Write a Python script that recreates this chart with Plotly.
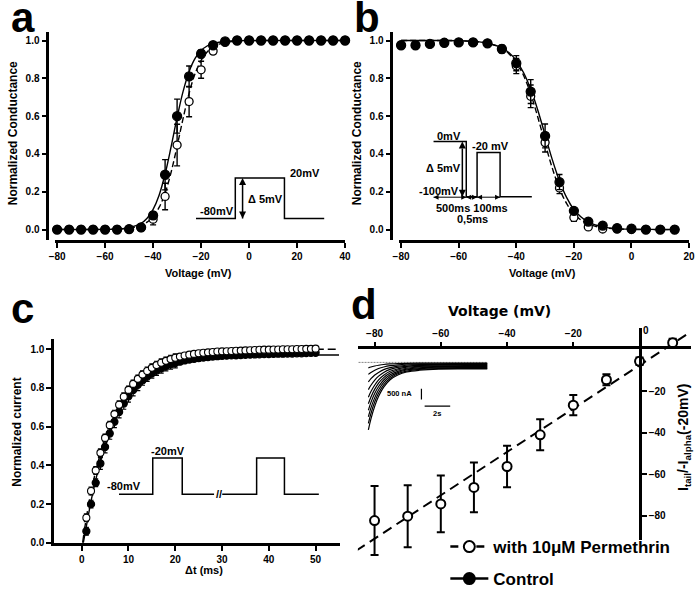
import plotly.graph_objects as go

W, H = 700, 597

# ---------------- data ----------------
# Panel a: activation
A_V = [-80, -75, -70, -65, -60, -55, -50, -45, -40, -35, -30, -25, -20, -15, -10, -5, 0, 5, 10, 15, 20, 25, 30, 35, 40]
A_CTRL = [0, 0, 0, 0, 0, 0, 0.002, 0.012, 0.075, 0.29, 0.60, 0.81, 0.93, 0.975, 0.995, 1, 1, 1, 1, 1, 1, 1, 1, 1, 1]
A_CTRL_ERR = [0, 0, 0, 0, 0, 0, 0, 0.005, 0.02, 0.08, 0.09, 0.055, 0.02, 0.01, 0, 0, 0, 0, 0, 0, 0, 0, 0, 0, 0]
A_PERM = [0, 0, 0, 0, 0, 0, 0.002, 0.01, 0.055, 0.175, 0.447, 0.677, 0.845, 0.944, 0.99, 1, 1, 1, 1, 1, 1, 1, 1, 1, 1]
A_PERM_ERR = [0, 0, 0, 0, 0, 0, 0, 0.005, 0.03, 0.07, 0.11, 0.08, 0.045, 0.015, 0.005, 0, 0, 0, 0, 0, 0, 0, 0, 0, 0]
A_FIT_V = [-80, -70, -60, -55, -50, -45, -42.5, -40, -37.5, -35, -32.5, -30, -27.5, -25, -22.5, -20, -17.5, -15, -12.5, -10, -5, 0, 10, 20, 30, 40]
A_FIT_CTRL = [0, 0, 0.001, 0.003, 0.01, 0.033, 0.06, 0.107, 0.182, 0.294, 0.438, 0.593, 0.731, 0.835, 0.905, 0.947, 0.971, 0.984, 0.991, 0.995, 0.999, 1, 1, 1, 1, 1]
A_FIT_PERM = [0, 0, 0.001, 0.002, 0.007, 0.022, 0.039, 0.068, 0.117, 0.193, 0.303, 0.441, 0.588, 0.721, 0.825, 0.895, 0.939, 0.966, 0.981, 0.989, 0.998, 0.999, 1, 1, 1, 1]

# Panel b: steady-state inactivation
B_V = [-80, -75, -70, -65, -60, -55, -50, -45, -40, -35, -30, -25, -20, -15, -10, -5, 0, 5, 10, 15]
B_CTRL = [0.975, 0.975, 0.982, 0.988, 0.99, 0.99, 0.985, 0.955, 0.88, 0.73, 0.495, 0.251, 0.099, 0.042, 0.021, 0.008, 0.005, 0.0, 0.0, 0.0]
B_CTRL_ERR = [0, 0, 0, 0, 0, 0, 0.005, 0.015, 0.04, 0.063, 0.063, 0.04, 0.015, 0.008, 0.005, 0, 0, 0, 0, 0]
B_PERM = [0.975, 0.975, 0.982, 0.988, 0.99, 0.99, 0.985, 0.955, 0.865, 0.705, 0.46, 0.22, 0.064, 0.014, 0.003, 0.002, 0, 0, 0, 0]
B_PERM_ERR = [0, 0, 0, 0, 0, 0, 0.005, 0.02, 0.04, 0.06, 0.05, 0.03, 0.02, 0.008, 0.003, 0, 0, 0, 0, 0]
B_FIT_V = [-80, -70, -60, -55, -50, -45, -42.5, -40, -37.5, -35, -32.5, -30, -27.5, -25, -22.5, -20, -17.5, -15, -12.5, -10, -5, 0, 5, 15]
B_FIT_CTRL = [1, 1, 0.999, 0.995, 0.986, 0.961, 0.935, 0.894, 0.831, 0.743, 0.63, 0.5, 0.37, 0.257, 0.169, 0.106, 0.066, 0.039, 0.024, 0.014, 0.005, 0.002, 0.001, 0]
B_FIT_PERM = [1, 1, 0.999, 0.995, 0.986, 0.959, 0.929, 0.885, 0.816, 0.718, 0.593, 0.456, 0.325, 0.216, 0.137, 0.083, 0.05, 0.029, 0.017, 0.01, 0.003, 0.001, 0, 0]

# Panel c: recovery from inactivation
C_T = list(range(1, 51))
C_CTRL = [0.06, 0.2, 0.31, 0.41, 0.495, 0.565, 0.625, 0.676, 0.72, 0.757, 0.789, 0.816, 0.839, 0.859, 0.876,
          0.89, 0.902, 0.913, 0.922, 0.929, 0.936, 0.942, 0.947, 0.951, 0.954, 0.957, 0.96, 0.962, 0.964, 0.966,
          0.967, 0.968, 0.969, 0.97, 0.971, 0.972, 0.973, 0.974, 0.975, 0.975, 0.976, 0.977, 0.977, 0.978, 0.978,
          0.979, 0.979, 0.98, 0.981, 0.982]
C_CTRL_ERR = [0.02] * 3 + [0.03] * 9 + [0.025] * 8 + [0.015] * 10 + [0.01] * 20
C_PERM = [0.13, 0.268, 0.374, 0.465, 0.542, 0.608, 0.665, 0.713, 0.755, 0.79, 0.821, 0.847, 0.869, 0.888, 0.904,
          0.918, 0.93, 0.94, 0.949, 0.956, 0.962, 0.968, 0.972, 0.976, 0.979, 0.982, 0.984, 0.986, 0.988, 0.989,
          0.99, 0.991, 0.992, 0.993, 0.994, 0.995, 0.996, 0.997, 0.998, 0.998, 0.999, 0.999, 1.0, 1.0, 1.0,
          1.001, 1.001, 1.002, 1.002, 1.003]
C_PERM_ERR = [0.02] * 20 + [0.01] * 30
C_FIT_T_CTRL = [0.35, 1, 2, 3, 4, 5, 6, 8, 10, 12, 15, 18, 22, 26, 30, 35, 40, 45, 50, 55]
C_FIT_CTRL = [0, 0.085, 0.215, 0.325, 0.418, 0.498, 0.566, 0.676, 0.757, 0.814, 0.873, 0.909, 0.938, 0.953, 0.961, 0.966, 0.968, 0.969, 0.97, 0.97]
C_FIT_T_PERM = [0.2, 1, 2, 3, 4, 5, 6, 8, 10, 12, 15, 18, 22, 26, 30, 35, 40, 45, 50, 55]
C_FIT_PERM = [0, 0.13, 0.26, 0.37, 0.46, 0.54, 0.605, 0.71, 0.788, 0.845, 0.902, 0.938, 0.966, 0.981, 0.99, 0.996, 0.999, 1.0, 1.0, 1.0]

# Panel d: tail current vs voltage (with permethrin)
D_V = [-80, -70, -60, -50, -40, -30, -20, -10, 0, 10]
D_PERM = [-82.4, -80.3, -74.4, -66.4, -56.3, -41.0, -26.7, -14.4, -5.5, 3.5]
D_PERM_ERR = [16.7, 15.0, 13.7, 12.0, 10.0, 7.5, 4.9, 2.7, 1.8, 1.9]
D_FIT_V = [-85.5, 15.5]
D_FIT_I = [-96.9, 8.8]

# Panel d inset: tail-current recordings (s, nA)
TR_T = [0, 0.2, 0.5, 0.8, 1.2, 1.7, 2.3, 3, 4, 5.5, 7.5, 9.3]
TRACES = [
    [-3100, -2600, -2010, -1560, -1140, -800, -580, -440, -360, -310, -300, -300],
    [-2800, -2350, -1810, -1410, -1030, -730, -520, -400, -320, -280, -270, -270],
    [-2500, -2090, -1620, -1260, -920, -650, -470, -350, -290, -250, -240, -240],
    [-2200, -1840, -1420, -1110, -810, -570, -410, -310, -250, -220, -210, -210],
    [-1900, -1590, -1230, -950, -700, -490, -350, -270, -210, -190, -180, -180],
    [-1600, -1340, -1040, -800, -590, -410, -300, -220, -180, -160, -150, -150],
    [-1250, -1050, -810, -630, -460, -320, -230, -180, -140, -125, -120, -120],
    [-900, -750, -580, -460, -330, -240, -170, -130, -105, -95, -90, -90],
    [-550, -460, -360, -280, -210, -150, -110, -85, -70, -62, -60, -60],
    [-250, -210, -165, -130, -95, -70, -50, -40, -35, -30, -30, -30],
]
TR_BASE_T = [-0.77, 9.3]
TR_BASE_I = [0, 0]
SCALE_NA = 500
SCALE_S = 2

# Voltage protocols (schematic time units, mV)
PROTO_A_T = [0, 40, 40, 90, 90, 130.7]
PROTO_A_V = [-80, -80, 20, 20, -80, -80]
PROTO_B_T = [0, 33.3, 33.3, 44.3, 44.3, 67.7, 67.7, 100]
PROTO_B_V = [0, 0, -100, -100, -20, -20, -100, -100]
PROTO_B_SPANS = [(0, 33.3), (33.3, 44.3), (44.3, 67.7)]
PROTO_C_T1 = [0, 34.3, 34.3, 64.3, 64.3, 96.7]
PROTO_C_T2 = [105, 140, 140, 168.3, 168.3, 203.3]
PROTO_C_V = [-80, -80, -20, -20, -80, -80]

# ---------------- helpers ----------------
FONT = "Liberation Sans, Arial, Helvetica, sans-serif"


def P(x):
    return x / W


def Q(y):
    return 1 - y / H


def font(size, family=FONT):
    return dict(family=family, size=size, color="black", weight="bold")


def err(arr, width, thick=1.4):
    return dict(type="data", array=arr, visible=True, color="black", thickness=thick, width=width)


def mk(filled, size, lw=1.3):
    return dict(symbol="circle", size=size, color="black" if filled else "white",
                line=dict(color="black", width=lw))


fig = go.Figure()


def line(x, y, xa, ya, width=1.4, dash=None, shape="spline", color="black"):
    fig.add_trace(go.Scatter(x=x, y=y, mode="lines", xaxis=xa, yaxis=ya, showlegend=False,
                             hoverinfo="skip",
                             line=dict(color=color, width=width, dash=dash, shape=shape)))


def dbl_arrow(x, y, xa, ya, symbols, width=1.5, size=7):
    fig.add_trace(go.Scatter(x=x, y=y, mode="lines+markers", xaxis=xa, yaxis=ya, showlegend=False,
                             hoverinfo="skip", cliponaxis=False,
                             line=dict(color="black", width=width),
                             marker=dict(symbol=symbols, size=size, color="black",
                                         line=dict(width=0))))


def pts(x, y, e, xa, ya, filled, size, lw=1.3, cap=3, thick=1.4):
    fig.add_trace(go.Scatter(x=x, y=y, mode="markers", xaxis=xa, yaxis=ya, showlegend=False,
                             marker=mk(filled, size, lw), error_y=err(e, cap, thick), cliponaxis=False))


# Panel a
line(A_FIT_V, A_FIT_PERM, "x", "y", dash="6px,3px")
line(A_FIT_V, A_FIT_CTRL, "x", "y")
pts(A_V, A_PERM, A_PERM_ERR, "x", "y", False, 8)
pts(A_V, A_CTRL, A_CTRL_ERR, "x", "y", True, 9)

# Panel b
line(B_FIT_V, B_FIT_PERM, "x2", "y2", dash="6px,3px")
line(B_FIT_V, B_FIT_CTRL, "x2", "y2")
pts(B_V, B_PERM, B_PERM_ERR, "x2", "y2", False, 8)
pts(B_V, B_CTRL, B_CTRL_ERR, "x2", "y2", True, 9)

# Panel c
line(C_FIT_T_PERM, C_FIT_PERM, "x3", "y3", dash="8px,4px")
line(C_FIT_T_CTRL, C_FIT_CTRL, "x3", "y3")
pts(C_T, C_CTRL, C_CTRL_ERR, "x3", "y3", True, 7, cap=2.5, thick=1.2)
pts(C_T, C_PERM, C_PERM_ERR, "x3", "y3", False, 7, lw=1.1, cap=2.5, thick=1.2)

# Panel d
line(D_FIT_V, D_FIT_I, "x4", "y4", width=2, dash="10px,6px", shape="linear")
pts(D_V, D_PERM, D_PERM_ERR, "x4", "y4", False, 9, lw=2, cap=4, thick=2)
fig.add_trace(go.Scatter(x=[], y=[], xaxis="x4", yaxis="y5", showlegend=False, hoverinfo="skip"))

# Legend entries
fig.add_trace(go.Scatter(x=[None], y=[None], mode="lines+markers", name="with 10\u03bcM Permethrin",
                         xaxis="x4", yaxis="y4", legend="legend",
                         line=dict(color="black", width=2.5, dash="8px,5px"),
                         marker=mk(False, 11, 2)))
fig.add_trace(go.Scatter(x=[None], y=[None], mode="lines+markers", name="Control",
                         xaxis="x4", yaxis="y4", legend="legend2",
                         line=dict(color="black", width=2.5), marker=mk(True, 11, 2)))

# Protocol insets
line(PROTO_A_T, PROTO_A_V, "x5", "y6", width=1.5, shape="linear")
dbl_arrow([47.4, 47.4], [-80, 20], "x5", "y6", ["arrow-down", "arrow-up"])
line(PROTO_B_T, PROTO_B_V, "x6", "y7", width=1.5, shape="linear")
dbl_arrow([29.3, 29.3], [-100, 0], "x6", "y7", ["arrow-down", "arrow-up"])
for a0, a1 in PROTO_B_SPANS:
    dbl_arrow([a0, a1], [-101, -101], "x6", "y7", ["arrow-left", "arrow-right"], width=1, size=5)
line(PROTO_C_T1, PROTO_C_V, "x7", "y8", width=1.5, shape="linear")
line(PROTO_C_T2, PROTO_C_V, "x7", "y8", width=1.5, shape="linear")

# Recording inset in d
line(TR_BASE_T, TR_BASE_I, "x8", "y9", width=0.8, dash="2px,1px", shape="linear", color="#666")
for tr in TRACES:
    line(TR_T, tr, "x8", "y9", width=1.2)
SB_T, SB_I = 4.15, -1209
line([SB_T, SB_T], [SB_I, SB_I - SCALE_NA], "x8", "y9", width=1.2, shape="linear")
line([SB_T + 0.25, SB_T + 0.25 + SCALE_S], [-2013, -2013], "x8", "y9", width=1.2, shape="linear")

# ---------------- axes ----------------
AX = dict(showline=True, linecolor="black", linewidth=2.5, ticks="outside", ticklen=5, tickwidth=2,
          tickcolor="black", showgrid=False, zeroline=False, tickfont=font(10), fixedrange=True,
          ticklabeloverflow="allow")
INV = dict(visible=False, fixedrange=True, showgrid=False, zeroline=False)
YT = [0, 0.2, 0.4, 0.6, 0.8, 1.0]

layout = dict(
    width=W, height=H, margin=dict(l=0, r=0, t=0, b=0),
    paper_bgcolor="white", plot_bgcolor="rgba(0,0,0,0)",
    font=dict(family=FONT, color="black"),
    showlegend=True,
    xaxis=dict(AX, domain=[P(50), P(345)], range=[-80.82, 40], anchor="y",
               tickvals=[-80, -60, -40, -20, 0, 20, 40]),
    yaxis=dict(AX, domain=[Q(243), Q(32)], range=[-0.056, 1.047], anchor="free", position=P(42),
               tickvals=YT, tickformat=".1f"),
    xaxis2=dict(AX, domain=[P(400), P(695)], range=[-80.68, 20], anchor="y2",
                tickvals=[-80, -60, -40, -20, 0, 20]),
    yaxis2=dict(AX, domain=[Q(243), Q(32)], range=[-0.056, 1.047], anchor="free", position=P(392),
                tickvals=YT, tickformat=".1f"),
    xaxis3=dict(AX, domain=[P(49), P(340)], range=[-5.88, 55.25], anchor="y3",
                tickvals=[0, 10, 20, 30, 40, 50]),
    yaxis3=dict(AX, domain=[Q(549.3), Q(343)], range=[0, 1.053], anchor="x3",
                tickvals=YT, tickformat=".1f"),
    xaxis4=dict(AX, domain=[P(358), P(697)], range=[-85.04, 15.55], anchor="free", position=Q(351.5),
                side="top", tickvals=[-80, -60, -40, -20], ticklabelstandoff=1),
    yaxis4=dict(INV, domain=[Q(566), Q(331.7)], range=[-101.15, 10.69], anchor="x4"),
    yaxis5=dict(AX, domain=[Q(546.7), Q(331.7)], range=[-91.93, 10.69], anchor="free", position=P(645),
                side="right", tickvals=[-80, -60, -40, -20]),
    xaxis5=dict(INV, domain=[P(193.3), P(324)], range=[0, 130.7], anchor="y6"),
    yaxis6=dict(INV, domain=[Q(226), Q(175)], range=[-92.2, 32.2], anchor="x5"),
    xaxis6=dict(INV, domain=[P(420), P(540)], range=[-15, 105], anchor="y7"),
    yaxis7=dict(INV, domain=[Q(204), Q(138)], range=[-109, 9.5], anchor="x6"),
    xaxis7=dict(INV, domain=[P(105), P(330)], range=[-10, 215], anchor="y8"),
    yaxis8=dict(INV, domain=[Q(506), Q(457)], range=[-89.8, -9.6], anchor="x7"),
    xaxis8=dict(INV, domain=[P(355), P(492)], range=[-1.054, 9.48], anchor="y9"),
    yaxis9=dict(INV, domain=[Q(440), Q(362)], range=[-3332, 214], anchor="x8"),
    legend=dict(x=P(447), y=Q(553.5), xanchor="left", yanchor="middle", font=font(17),
                bgcolor="rgba(0,0,0,0)", borderwidth=0, itemwidth=38),
    legend2=dict(x=P(447), y=Q(586), xanchor="left", yanchor="middle", font=font(17),
                 bgcolor="rgba(0,0,0,0)", borderwidth=0, itemwidth=38),
)

ann = []


def ptxt(text, xpx, ypx, size, xanchor="center", angle=0, family=FONT):
    ann.append(dict(text=text, x=P(xpx), y=Q(ypx), xref="paper", yref="paper", showarrow=False,
                    xanchor=xanchor, yanchor="middle", textangle=angle, font=font(size, family)))


# panel letters
ptxt("a", 3, 17.5, 42, "left")
ptxt("b", 352, 17.5, 42, "left")
ptxt("c", 3, 312.5, 42, "left")
ptxt("d", 349, 308.5, 42, "left")

# axis titles
ptxt("Voltage (mV)", 196, 276, 11)
ptxt("Normalized Conductance", 8, 135, 12, angle=-90)
ptxt("Voltage (mV)", 546, 276, 11)
ptxt("Normalized Conductance", 358, 135, 12, angle=-90)
ptxt("\u0394t (ms)", 201.7, 577, 11)
ptxt("Normalized current", 11, 437, 12, angle=-90)
ptxt("Voltage (mV)", 501.7, 315, 14, family="DejaVu Sans, Verdana, sans-serif")
ptxt("I<sub>tail</sub>/-I<sub>alpha</sub>(-20mV)", 690, 443, 14, angle=-90)
# top-axis zero label of panel d (drawn beside the vertical axis)
ann.append(dict(text="0", x=0, y=Q(334), xref="x4", yref="paper", xshift=6, showarrow=False,
                xanchor="center", yanchor="middle", font=font(10)))

# protocol labels a
ptxt("20mV", 287, 175, 11, "left")
ptxt("\u0394 5mV", 244, 201.7, 11, "left")
ptxt("-80mV", 195, 213.3, 11, "left")
# protocol labels b
ptxt("0mV", 436, 138, 11, "left")
ptxt("-20 mV", 471.7, 148, 11, "left")
ptxt("\u0394 5mV", 425, 170, 11, "left")
ptxt("-100mV", 418, 193.3, 11, "left")
ptxt("500ms 100ms", 435, 210.7, 11, "left")
ptxt("0,5ms", 456.7, 221.7, 11, "left")
# protocol labels c
ptxt("-20mV", 146, 456.7, 11, "left")
ptxt("-80mV", 100.7, 492, 11, "left")
ptxt("//", 216.5, 500, 11)
# recording inset labels
ptxt("500 nA", 415, 398.3, 7.5, "right")
ptxt("2s", 439, 418.3, 7.5)

layout["annotations"] = ann
fig.update_layout(**layout)
fig.write_html("out.html", config={"displayModeBar": False},
               post_script="document.body.style.margin='0';")
